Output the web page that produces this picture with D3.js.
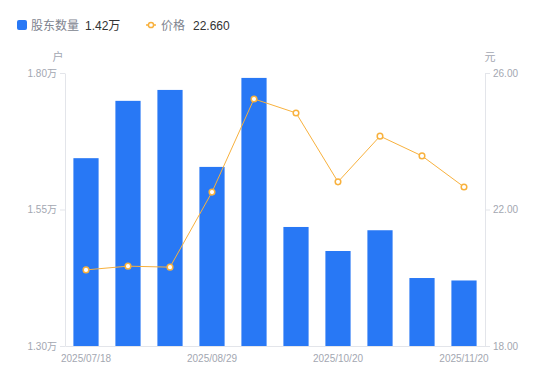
<!DOCTYPE html>
<html>
<head>
<meta charset="utf-8">
<script src="https://cdn.jsdelivr.net/npm/d3@7/dist/d3.min.js"></script>
<style>
  html, body { margin: 0; padding: 0; background: #fff; }
  svg { display: block; font-family: "Liberation Sans", "Noto Sans CJK SC", sans-serif; }
</style>
</head>
<body>
<svg id="chart" width="550" height="381"></svg>
<script>
// data
const dates = ['2025/07/18', '2025/07/31', '2025/08/20', '2025/08/29', '2025/09/10',
    '2025/09/30', '2025/10/20', '2025/10/31', '2025/11/10', '2025/11/20'];
const holders = [1.644, 1.749, 1.769, 1.628, 1.791, 1.518, 1.474, 1.512, 1.4245, 1.42];
const prices = [20.23, 20.34, 20.31, 22.51, 25.24, 24.83, 22.81, 24.15, 23.57, 22.66];
const shownDates = ['2025/07/18', '2025/08/29', '2025/10/20', '2025/11/20'];
const leftTicks = [1.30, 1.55, 1.80];
const rightTicks = [18, 22, 26];

const margin = { top: 73, bottom: 35, left: 65, right: 65 };
const totalWidth = 550;
const totalHeight = 381;
const chartWidth = totalWidth - margin.left - margin.right;
const chartHeight = totalHeight - margin.top - margin.bottom;

const barColor = '#2878f5';
const lineColor = '#f8b13d';
const axisColor = '#e3e5ea';
const labelColor = '#a3a7b1';

const svg = d3.select('#chart');

const x = d3.scaleBand().domain(dates).range([0, chartWidth]).paddingInner(0).paddingOuter(0);
const yLeft = d3.scaleLinear().domain([1.30, 1.80]).range([chartHeight, 0]);
const yRight = d3.scaleLinear().domain([18, 26]).range([chartHeight, 0]);

const gChart = svg.append('g')
    .attr('transform', 'translate(' + margin.left + ',' + margin.top + ')');

// axes
const styleAxis = (g) => {
    g.select('.domain').attr('stroke', axisColor);
    g.selectAll('.tick line').attr('stroke', axisColor);
    g.selectAll('.tick text').attr('fill', labelColor).attr('font-size', 10)
        .attr('font-family', '"Liberation Sans", "Noto Sans CJK SC", sans-serif');
};

gChart.append('g')
    .call(d3.axisLeft(yLeft).tickValues(leftTicks).tickSizeInner(5).tickSizeOuter(0).tickPadding(3)
        .tickFormat(d => d3.format('.2f')(d) + '万'))
    .call(styleAxis);

gChart.append('g')
    .attr('transform', 'translate(' + chartWidth + ',0)')
    .call(d3.axisRight(yRight).tickValues(rightTicks).tickSizeInner(5).tickSizeOuter(0).tickPadding(3)
        .tickFormat(d3.format('.2f')))
    .call(styleAxis);

gChart.append('g')
    .attr('transform', 'translate(0,' + chartHeight + ')')
    .call(d3.axisBottom(x).tickValues(shownDates).tickSize(0).tickPadding(9))
    .call(styleAxis);

// axis units
gChart.append('text').attr('x', -7).attr('y', -12).attr('text-anchor', 'middle')
    .attr('font-size', 11).attr('fill', labelColor).text('户');
gChart.append('text').attr('x', chartWidth + 5).attr('y', -12).attr('text-anchor', 'middle')
    .attr('font-size', 11).attr('fill', labelColor).text('元');

// bars
const barWidth = x.bandwidth() * 0.6;
gChart.selectAll('.bar')
    .data(dates)
    .enter()
    .append('rect')
    .attr('class', 'bar')
    .attr('x', d => x(d) + (x.bandwidth() - barWidth) / 2)
    .attr('width', barWidth)
    .attr('y', (d, i) => yLeft(holders[i]))
    .attr('height', (d, i) => chartHeight - yLeft(holders[i]))
    .attr('fill', barColor);

// price line
const line = d3.line()
    .x((d, i) => x(dates[i]) + x.bandwidth() / 2)
    .y(d => yRight(d));

gChart.append('path')
    .datum(prices)
    .attr('d', line)
    .attr('fill', 'none')
    .attr('stroke', lineColor)
    .attr('stroke-width', 1);

gChart.selectAll('.pt')
    .data(prices)
    .enter()
    .append('circle')
    .attr('class', 'pt')
    .attr('cx', (d, i) => x(dates[i]) + x.bandwidth() / 2)
    .attr('cy', d => yRight(d))
    .attr('r', 2.8)
    .attr('fill', '#fff')
    .attr('stroke', lineColor)
    .attr('stroke-width', 1.5);

// legend
const legend = svg.append('g').attr('transform', 'translate(17,25)');
legend.append('rect').attr('x', 0).attr('y', -5).attr('width', 10).attr('height', 10)
    .attr('rx', 2).attr('fill', barColor);
legend.append('text').attr('x', 14).attr('y', 4.5).attr('font-size', 12).attr('fill', '#80848f').text('股东数量');
legend.append('text').attr('x', 68).attr('y', 4.5).attr('font-size', 12).attr('fill', '#333').text('1.42万');

legend.append('line').attr('x1', 129).attr('x2', 139).attr('y1', 0).attr('y2', 0)
    .attr('stroke', lineColor).attr('stroke-width', 1.5);
legend.append('circle').attr('cx', 134).attr('cy', 0).attr('r', 2.6)
    .attr('fill', '#fff').attr('stroke', lineColor).attr('stroke-width', 1.5);
legend.append('text').attr('x', 144).attr('y', 4.5).attr('font-size', 12).attr('fill', '#80848f').text('价格');
legend.append('text').attr('x', 176).attr('y', 4.5).attr('font-size', 12).attr('fill', '#333').text('22.660');
</script>
</body>
</html>
